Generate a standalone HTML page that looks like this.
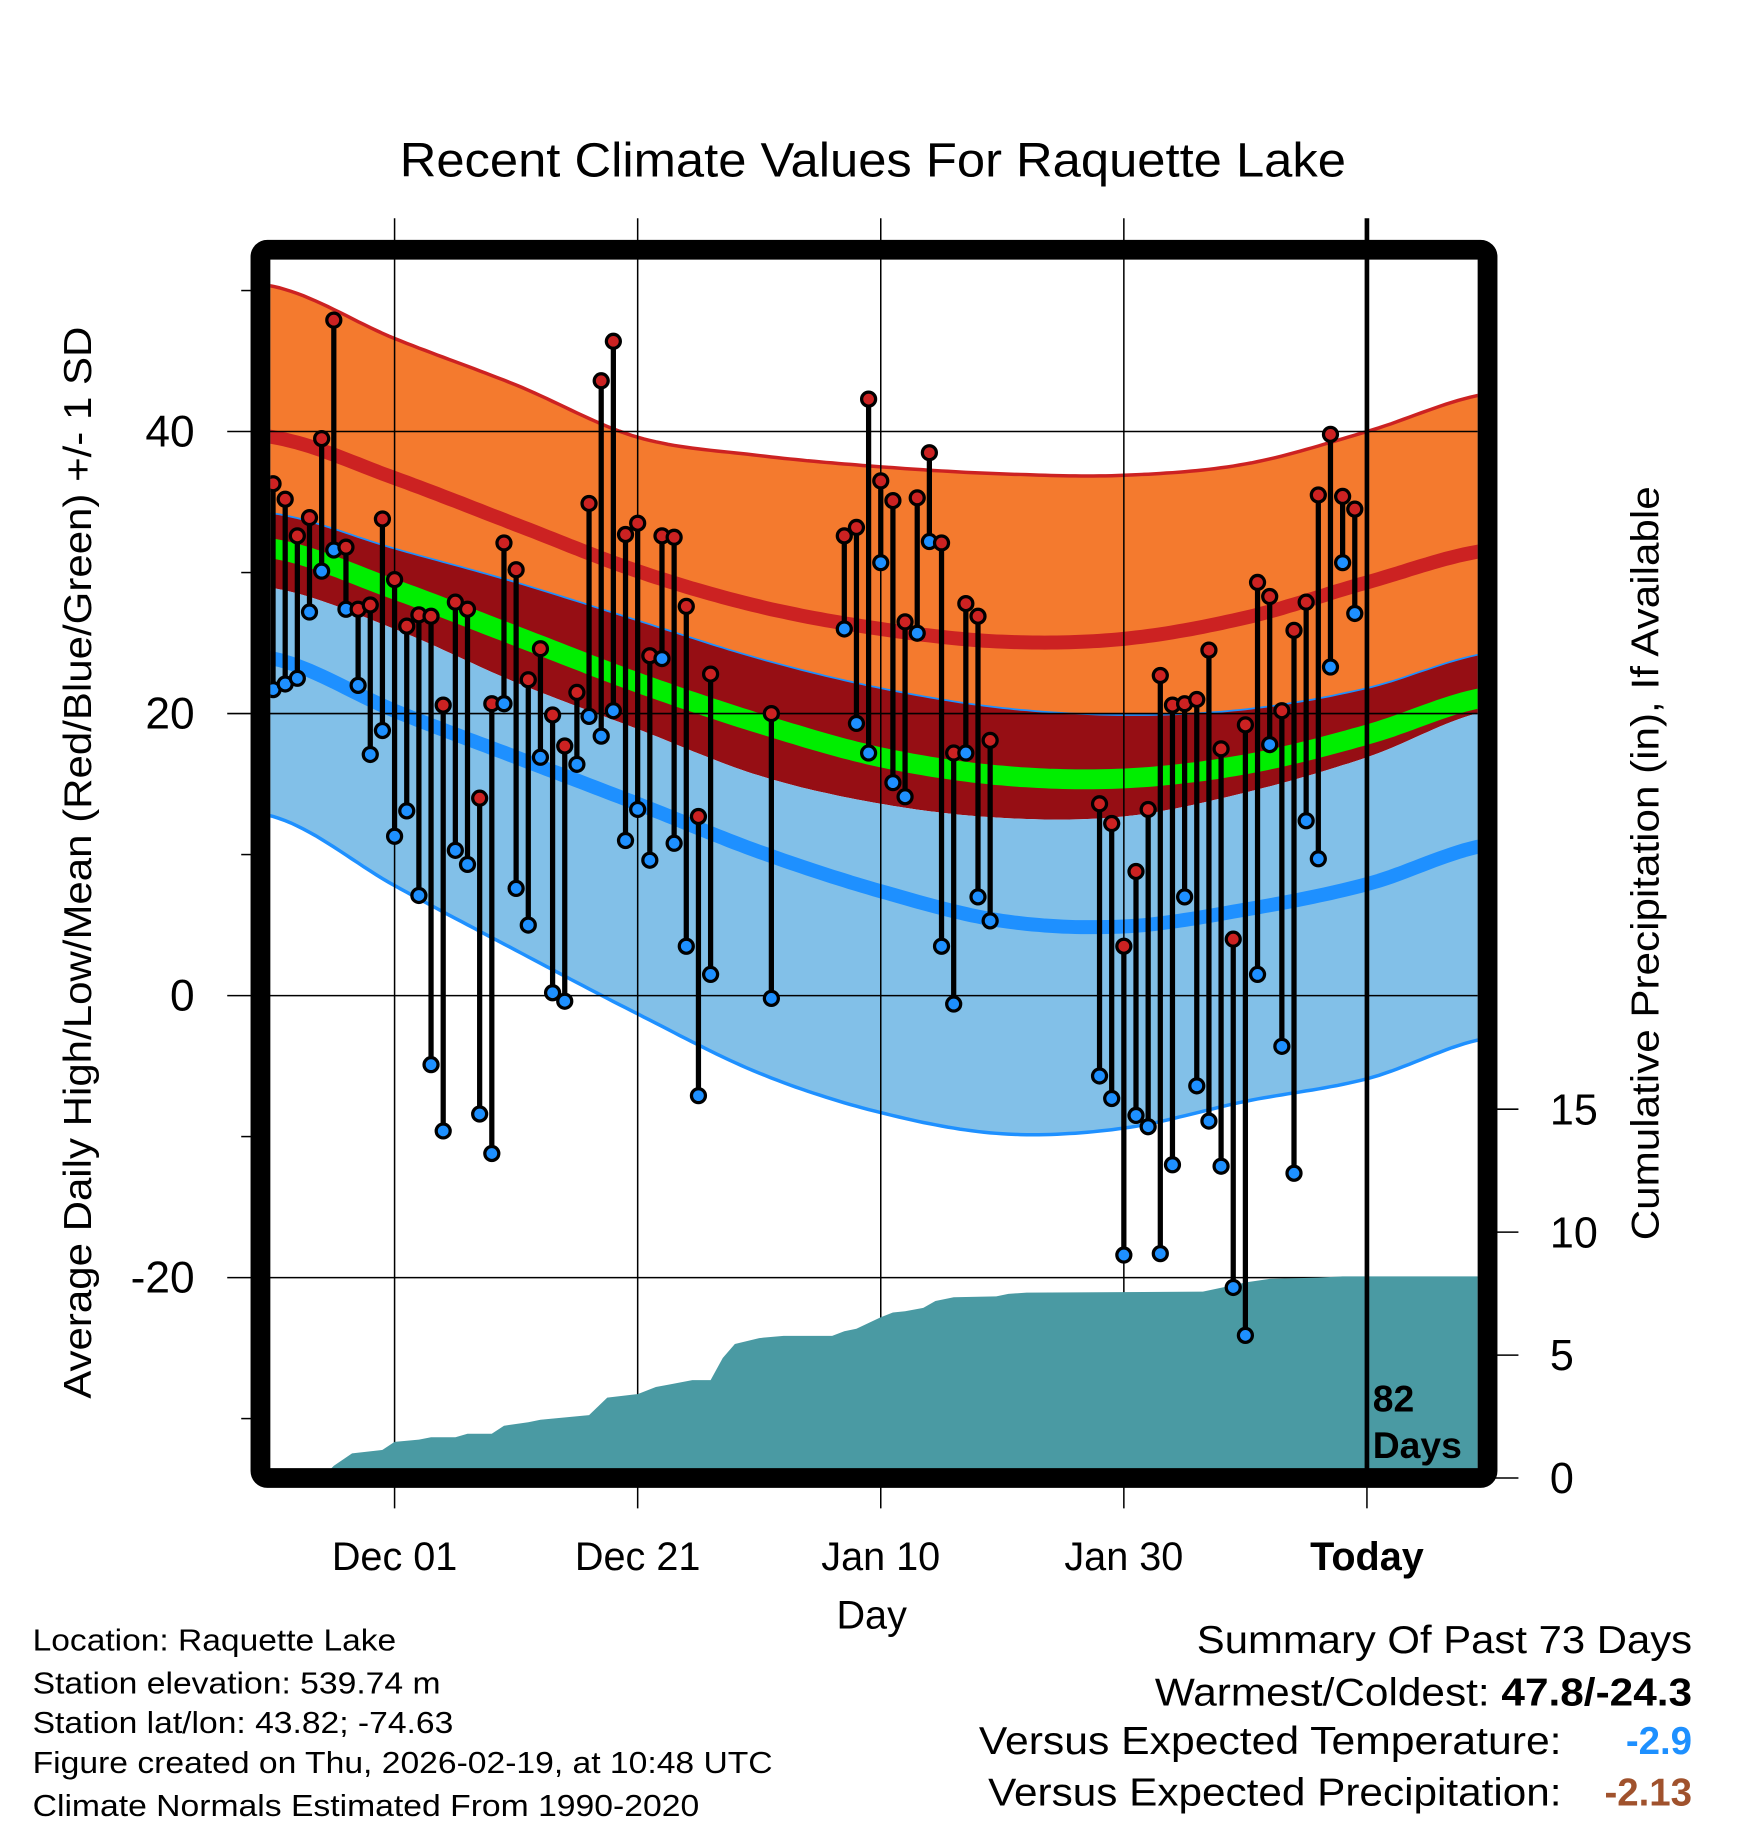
<!DOCTYPE html>
<html><head><meta charset="utf-8"><style>
html,body{margin:0;padding:0;background:#fff;}
svg{display:block;font-family:"Liberation Sans",sans-serif;}
</style></head><body>
<svg id="chart" width="1748" height="1828" viewBox="0 0 1500 1568" xmlns="http://www.w3.org/2000/svg">
<defs><clipPath id="plotclip"><rect x="232" y="223" width="1036" height="1037"/></clipPath></defs>
<text x="343" y="151" font-size="41" textLength="812" lengthAdjust="spacingAndGlyphs">Recent Climate Values For Raquette Lake</text>
<g id="bands" clip-path="url(#plotclip)"></g>
<g id="grid"></g>
<g id="precip" clip-path="url(#plotclip)"></g>
<g id="marks" clip-path="url(#plotclip)"></g>
<g id="axes"></g>
<rect x="223.5" y="214" width="1053" height="1054" rx="6" fill="none" stroke="#000" stroke-width="17"/>
<text x="1178" y="1211" font-size="32" font-weight="bold">82</text>
<text x="1178" y="1251" font-size="32" font-weight="bold">Days</text>
<text x="748" y="1397" font-size="34" text-anchor="middle">Day</text>
<text transform="translate(78,740) rotate(-90)" font-size="33" x="-460" textLength="920" lengthAdjust="spacingAndGlyphs">Average Daily High/Low/Mean (Red/Blue/Green) +/- 1 SD</text>
<text transform="translate(1423,741) rotate(-90)" font-size="33" x="-323" textLength="647" lengthAdjust="spacingAndGlyphs">Cumulative Precipitation (in), If Available</text>
<g font-size="26">
<text x="28" y="1416" textLength="312" lengthAdjust="spacingAndGlyphs">Location: Raquette Lake</text>
<text x="28" y="1453" textLength="350" lengthAdjust="spacingAndGlyphs">Station elevation: 539.74 m</text>
<text x="28" y="1487" textLength="361" lengthAdjust="spacingAndGlyphs">Station lat/lon: 43.82; -74.63</text>
<text x="28" y="1521" textLength="635" lengthAdjust="spacingAndGlyphs">Figure created on Thu, 2026-02-19, at 10:48 UTC</text>
<text x="28" y="1558" textLength="572" lengthAdjust="spacingAndGlyphs">Climate Normals Estimated From 1990-2020</text>
</g>
<g font-size="33">
<text x="1027" y="1418" textLength="425" lengthAdjust="spacingAndGlyphs">Summary Of Past 73 Days</text>
<text x="991" y="1463" textLength="461" lengthAdjust="spacingAndGlyphs">Warmest/Coldest: <tspan font-weight="bold">47.8/-24.3</tspan></text>
<text x="840" y="1505" textLength="500" lengthAdjust="spacingAndGlyphs">Versus Expected Temperature:</text>
<text x="1452" y="1505" text-anchor="end" font-weight="bold" fill="#1e90ff">-2.9</text>
<text x="848" y="1549" textLength="492" lengthAdjust="spacingAndGlyphs">Versus Expected Precipitation:</text>
<text x="1452" y="1549" text-anchor="end" font-weight="bold" fill="#a0522d">-2.13</text>
</g>
</svg>
<script>
const normDays=[-90,-80,-70,-60,-50,-40,-30,-20,-10,0,10];
const hiPlusSD=[50.3,46.6,43.3,39.6,38.3,37.5,37.0,36.9,37.7,40.0,42.7];
const hiMean=[39.6,36.7,33.4,30.1,27.6,26.0,25.1,25.3,26.8,29.3,31.6];
const hiMinusSD=[34.2,31.7,29.3,26.6,23.9,21.8,20.4,19.9,20.3,21.8,24.3];
const avgMean=[31.7,28.8,25.5,22.2,19.3,16.9,15.6,15.4,16.4,18.5,21.2];
const loPlusSD=[28.9,26.0,22.2,18.9,15.6,13.6,12.6,12.7,14.4,16.9,20.2];
const loMean=[23.9,20.2,16.9,13.6,10.2,7.4,5.3,4.9,6.1,7.9,10.7];
const loMinusSD=[12.7,7.8,3.2,-1.3,-5.5,-8.3,-9.8,-9.4,-7.5,-5.9,-3.0];
const obsDays=[-90,-89,-88,-87,-86,-85,-84,-83,-82,-81,-80,-79,-78,-77,-76,-75,-74,-73,-72,-71,-70,-69,-68,-67,-66,-65,-64,-63,-62,-61,-60,-59,-58,-57,-56,-55,-54,-49,-43,-42,-41,-40,-39,-38,-37,-36,-35,-34,-33,-32,-31,-22,-21,-20,-19,-18,-17,-16,-15,-14,-13,-12,-11,-10,-9,-8,-7,-6,-5,-4,-3,-2,-1];
const obsHigh=[36.3,35.2,32.6,33.9,39.5,47.9,31.8,27.4,27.7,33.8,29.5,26.2,27.0,26.9,20.6,27.9,27.4,14.0,20.7,32.1,30.2,22.4,24.6,19.9,17.7,21.5,34.9,43.6,46.4,32.7,33.5,24.1,32.6,32.5,27.6,12.7,22.8,20.0,32.6,33.2,42.3,36.5,35.1,26.5,35.3,38.5,32.1,17.2,27.8,26.9,18.1,13.6,12.2,3.5,8.8,13.2,22.7,20.6,20.7,21.0,24.5,17.5,4.0,19.2,29.3,28.3,20.2,25.9,27.9,35.5,39.8,35.4,34.5];
const obsLow=[21.7,22.1,22.5,27.2,30.1,31.6,27.4,22.0,17.1,18.8,11.3,13.1,7.1,-4.9,-9.6,10.3,9.3,-8.4,-11.2,20.7,7.6,5.0,16.9,0.2,-0.4,16.4,19.8,18.4,20.2,11.0,13.2,9.6,23.9,10.8,3.5,-7.1,1.5,-0.2,26.0,19.3,17.2,30.7,15.1,14.1,25.7,32.2,3.5,-0.6,17.2,7.0,5.3,-5.7,-7.3,-18.4,-8.5,-9.3,-18.3,-12.0,7.0,-6.4,-8.9,-12.1,-20.7,-24.1,1.5,17.8,-3.6,-12.6,12.4,9.7,23.3,30.7,27.1];
const precipDays=[-90,-86,-85,-83.5,-81,-80,-78,-77,-75,-74,-72,-71,-69,-68,-64,-62.5,-60,-58.5,-57.5,-55.5,-54,-53,-52,-50,-48,-44,-43,-42,-40,-39,-38,-36.5,-35.5,-34,-30.5,-29.5,-28,-13.5,-11.7,-9.9,-8,-4,-2,10];
const precipVals=[0,0,0.5,1.0,1.14,1.47,1.56,1.66,1.66,1.8,1.8,2.13,2.27,2.37,2.56,3.27,3.41,3.70,3.79,3.98,3.98,4.88,5.45,5.69,5.78,5.78,5.97,6.07,6.54,6.73,6.78,6.92,7.20,7.35,7.39,7.49,7.54,7.58,7.77,7.96,8.10,8.15,8.20,8.20];
const yTicks=[-20,0,20,40];
const yMinor=[-30,-10,10,30,50];
const pTicks=[0,5,10,15];
const xTickDays=[-80,-60,-40,-20,0];
const xTickLabels=["Dec 01","Dec 21","Jan 10","Jan 30","Today"];

const NS="http://www.w3.org/2000/svg";
const X=d=>1173+10.43*d;
const Y=v=>854-12.1*v;
const P=p=>1268-21.1*p;
function mk(tag,attrs,parent){const e=document.createElementNS(NS,tag);for(const k in attrs)e.setAttribute(k,attrs[k]);parent.appendChild(e);return e;}
function interp(arr,d){
  const step=10,t0=normDays[0];let i=Math.floor((d-t0)/step);i=Math.max(0,Math.min(normDays.length-2,i));
  const t=(d-normDays[i])/step;const p0=arr[Math.max(0,i-1)],p1=arr[i],p2=arr[i+1],p3=arr[Math.min(arr.length-1,i+2)];
  return 0.5*((2*p1)+(-p0+p2)*t+(2*p0-5*p1+4*p2-p3)*t*t+(-p0+3*p1-3*p2+p3)*t*t*t);}
const samp=[];for(let d=-91;d<=10;d+=0.5)samp.push(d);
const line=arr=>samp.map((d,i)=>(i?'L':'M')+X(d).toFixed(1)+','+Y(interp(arr,d)).toFixed(1)).join('');
const band=(a,b)=>line(a)+samp.slice().reverse().map(d=>'L'+X(d).toFixed(1)+','+Y(interp(b,d)).toFixed(1)).join('')+'Z';
const bands=document.getElementById('bands');
let e;
e=mk('path',{d:band(hiPlusSD,hiMinusSD),fill:'#f47a2e'},bands);


e=mk('path',{d:band(hiMinusSD,loPlusSD),fill:'#960e14'},bands);


e=mk('path',{d:band(loPlusSD,loMinusSD),fill:'#82c0e8'},bands);


e=mk('path',{d:line(avgMean),fill:'none',stroke:'#00ee00',"stroke-width":17},bands);


e=mk('path',{d:line(hiMean),fill:'none',stroke:'#cc2222',"stroke-width":12},bands);


e=mk('path',{d:line(loMean),fill:'none',stroke:'#1e90ff',"stroke-width":12},bands);


e=mk('path',{d:line(hiPlusSD),fill:'none',stroke:'#cc2222',"stroke-width":3},bands);


e=mk('path',{d:line(hiMinusSD),fill:'none',stroke:'#1e90ff',"stroke-width":1.5},bands);


e=mk('path',{d:line(loMinusSD),fill:'none',stroke:'#1e90ff',"stroke-width":3},bands);



const grid=document.getElementById('grid');
yTicks.forEach(v=>{e=mk('line',{x1:195,x2:1268,y1:Y(v),y2:Y(v),stroke:'#000',"stroke-width":1.3},grid);

});
xTickDays.forEach((d,i)=>{if(i<4){e=mk('line',{x1:X(d),x2:X(d),y1:187,y2:1294,stroke:'#000',"stroke-width":1.3},grid);

}});

const pr=document.getElementById('precip');
let pd='M'+X(precipDays[0])+','+P(0);
precipDays.forEach((d,i)=>{pd+='L'+X(d).toFixed(1)+','+P(precipVals[i]).toFixed(1);});
pd+='L'+X(precipDays[precipDays.length-1])+','+P(0)+'Z';
e=mk('path',{d:pd,fill:'#4a9aa3'},pr);



const marks=document.getElementById('marks');
e=mk('line',{x1:X(0),x2:X(0),y1:187,y2:1262,stroke:'#000',"stroke-width":4},document.getElementById('axes'));


obsDays.forEach((d,i)=>{
  e=mk('line',{x1:X(d),x2:X(d),y1:Y(obsHigh[i]),y2:Y(obsLow[i]),stroke:'#000',"stroke-width":4.5},marks);
  
  
});
obsDays.forEach((d,i)=>{
  e=mk('circle',{cx:X(d),cy:Y(obsLow[i]),r:6,fill:'#1e90ff',stroke:'#000',"stroke-width":2.8},marks);
  
  
  e=mk('circle',{cx:X(d),cy:Y(obsHigh[i]),r:6,fill:'#cc2222',stroke:'#000',"stroke-width":2.8},marks);
  
  
});

const ax=document.getElementById('axes');
yTicks.forEach(v=>{e=mk('text',{x:167,y:Y(v)+13,"font-size":38,"text-anchor":"end"},ax);e.textContent=String(v);

});
yMinor.forEach(v=>{e=mk('line',{x1:207,x2:220,y1:Y(v),y2:Y(v),stroke:'#000',"stroke-width":1.3},ax);

});
pTicks.forEach(p=>{e=mk('line',{x1:1280,x2:1303,y1:P(p),y2:P(p),stroke:'#000',"stroke-width":1.3},ax);


e=mk('text',{x:1330,y:P(p)+13,"font-size":37},ax);e.textContent=String(p);

});
xTickDays.forEach((d,i)=>{e=mk('text',{x:X(d),y:1347,"font-size":34,"text-anchor":"middle"},ax);e.textContent=xTickLabels[i];
if(i==4)e.setAttribute('font-weight','bold');


if(i==4){e=mk('line',{x1:X(d),x2:X(d),y1:1270,y2:1294,stroke:'#000',"stroke-width":1.3},ax);

}});
</script>
</body></html>
